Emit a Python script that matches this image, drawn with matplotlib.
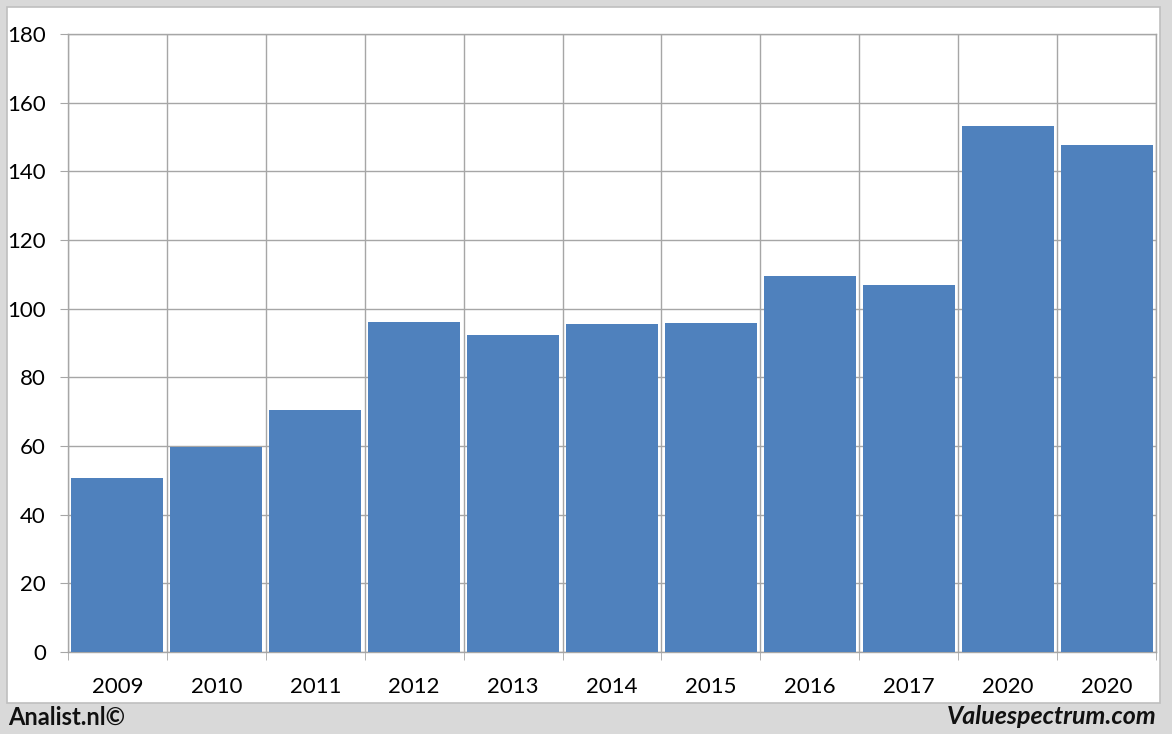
import matplotlib
matplotlib.use("Agg")
import matplotlib.pyplot as plt
from matplotlib.patches import Rectangle

years = ["2009", "2010", "2011", "2012", "2013", "2014", "2015", "2016", "2017", "2020", "2020"]
values = [50.7, 59.7, 70.5, 96.1, 92.3, 95.5, 95.8, 109.5, 106.9, 153.2, 147.7]
yticks = [0, 20, 40, 60, 80, 100, 120, 140, 160, 180]

BAR = "#4f81bd"; GRID = "#a6a6a6"; BG = "#d9d9d9"
plt.rcParams["font.family"] = ["Lato", "DejaVu Sans"]

fig = plt.figure(figsize=(11.72, 7.34), dpi=100, facecolor=BG)
# white chart panel with thin grey border, behind the axes
fig.patches.append(Rectangle((7 / 1172, 1 - 703 / 734), (1160 - 7) / 1172, (703 - 7) / 734,
                             transform=fig.transFigure, fc="white", ec="#bfbfbf", lw=1.2, zorder=-5))

ax = fig.add_axes([68 / 1172, 82 / 734, (1156 - 68) / 1172, (652 - 34) / 734])
ax.set_zorder(5)
ax.set_facecolor("white")
x = range(len(years))
ax.bar(list(x), values, width=0.93, color=BAR, zorder=3)

ax.set_xlim(-0.5, len(years) - 0.5)
ax.set_ylim(0, 180)
ax.set_yticks(yticks)
ax.set_xticks(list(x))
ax.set_xticklabels(years)
ax.set_xticks([i - 0.5 for i in range(len(years) + 1)], minor=True)
ax.tick_params(axis="x", which="major", length=0, pad=18, labelsize=16)
ax.tick_params(axis="x", which="minor", length=6, color=GRID, direction="out")
ax.tick_params(axis="y", length=6, color=GRID, direction="out", pad=10, labelsize=16)
ax.grid(axis="y", which="major", color=GRID, lw=1.0, zorder=0)
ax.grid(axis="x", which="minor", color=GRID, lw=1.0, zorder=0)
for s in ax.spines.values():
    s.set_color(GRID); s.set_linewidth(1.0)

fig.text(8 / 1172, 1 - 717 / 734, "Analist.nl©", fontsize=17, fontweight="bold",
         ha="left", va="center", color="#111111")
fig.text(1157 / 1172, 1 - 717 / 734, "Valuespectrum.com", fontsize=18, fontweight="bold",
         fontstyle="italic", ha="right", va="center", color="#111111")

fig.savefig("out.png", dpi=100, facecolor=BG)
